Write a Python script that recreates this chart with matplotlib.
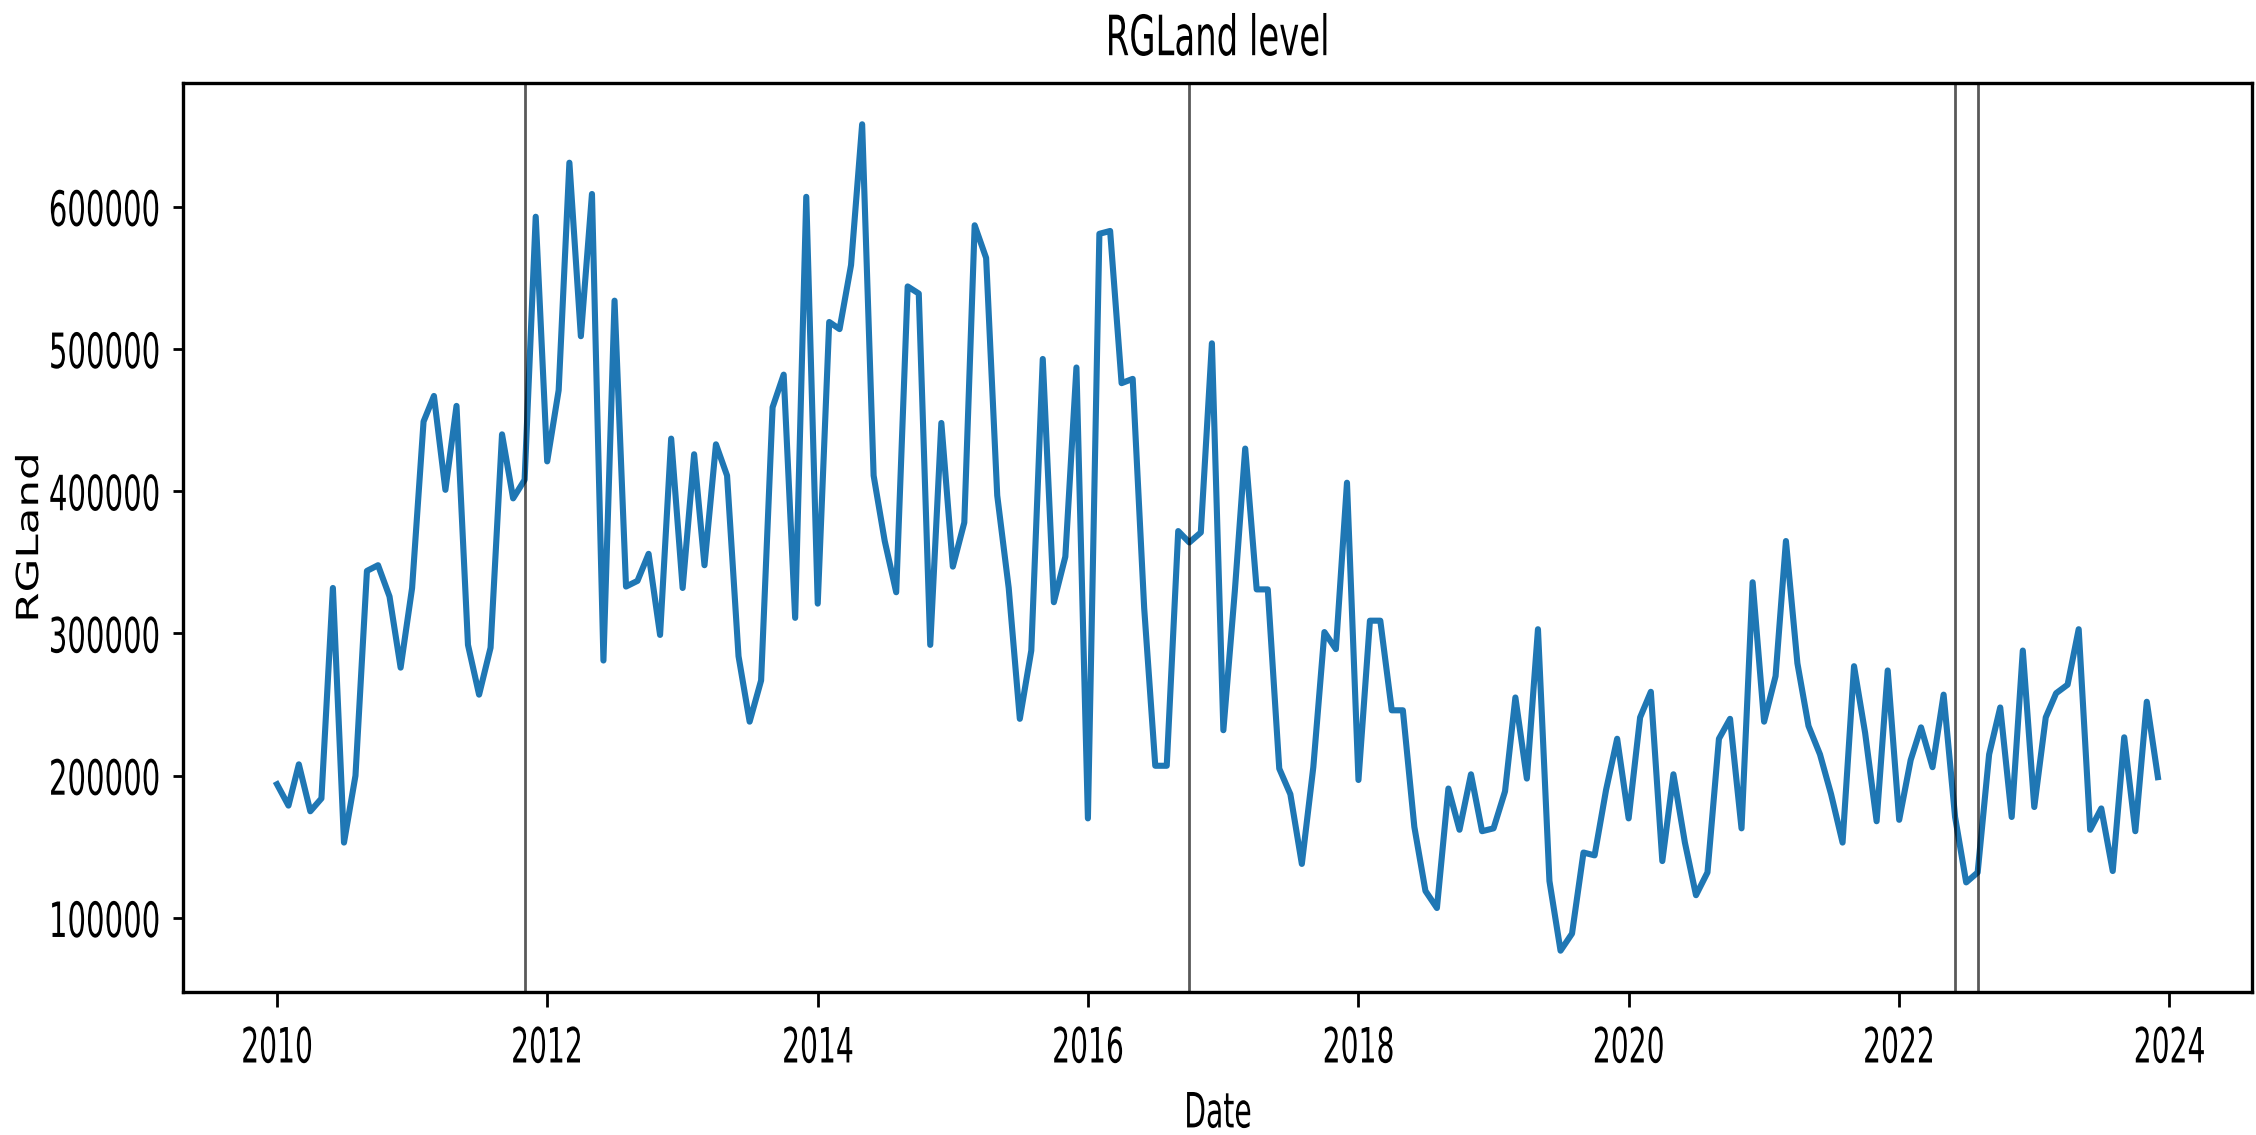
import pandas as pd
import matplotlib
matplotlib.use('Agg')
import matplotlib.pyplot as plt
import matplotlib.dates as mdates
from matplotlib.patheffects import AbstractPathEffect
from matplotlib.transforms import Affine2D, Bbox

# monthly RGLand level, Jan 2010 .. Dec 2023 (one row per year)
rgland = [
    194000, 179000, 208000, 175000, 184000, 332000, 153000, 200000, 344000, 348000, 326000, 276000,
    332000, 449000, 467000, 401000, 460000, 292000, 257000, 290000, 440000, 395000, 408000, 593000,
    421000, 471000, 631000, 509000, 609000, 281000, 534000, 333000, 337000, 356000, 299000, 437000,
    332000, 426000, 348000, 433000, 411000, 284000, 238000, 267000, 459000, 482000, 311000, 607000,
    321000, 519000, 514000, 559000, 658000, 411000, 365000, 329000, 544000, 539000, 292000, 448000,
    347000, 378000, 587000, 564000, 397000, 332000, 240000, 288000, 493000, 322000, 354000, 487000,
    170000, 581000, 583000, 476000, 479000, 318000, 207000, 207000, 372000, 364000, 371000, 504000,
    232000, 330000, 430000, 331000, 331000, 205000, 187000, 138000, 206000, 301000, 289000, 406000,
    197000, 309000, 309000, 246000, 246000, 164000, 119000, 107000, 191000, 162000, 201000, 161000,
    163000, 189000, 255000, 198000, 303000, 126000, 77000, 89000, 146000, 144000, 190000, 226000,
    170000, 241000, 259000, 140000, 201000, 153000, 116000, 132000, 226000, 240000, 163000, 336000,
    238000, 270000, 365000, 279000, 235000, 215000, 187000, 153000, 277000, 230000, 168000, 274000,
    169000, 211000, 234000, 206000, 257000, 171000, 125000, 132000, 215000, 248000, 171000, 288000,
    178000, 241000, 258000, 264000, 303000, 162000, 177000, 133000, 227000, 161000, 252000, 199000,
]
start = '2010-01-01'
# break dates marked by vertical lines
breaks = ['2011-11-01', '2016-10-01', '2022-06-01', '2022-08-01']
yticks = [100000, 200000, 300000, 400000, 500000, 600000]


class Squeeze(AbstractPathEffect):
    # the reference is squashed sideways, so the text is drawn narrow too
    def __init__(self, sx=0.59, anchor='center'):
        super().__init__()
        self.sx = sx
        self.anchor = anchor

    def draw_path(self, renderer, gc, tpath, affine, rgbFace=None):
        bb = tpath.get_extents(affine)
        x0 = bb.x1 if self.anchor == 'right' else 0.5 * (bb.x0 + bb.x1)
        sq = Affine2D().translate(-x0, 0).scale(self.sx, 1).translate(x0, 0)
        renderer.draw_path(gc, tpath, affine + sq, rgbFace)


def squeeze_text(txt, sx, anchor='center'):
    txt.set_path_effects([Squeeze(sx, anchor)])
    orig = txt.get_window_extent

    # report the narrow box, not the full-width one
    def extent(renderer=None, dpi=None):
        bb = orig(renderer, dpi)
        x0 = bb.x1 if anchor == 'right' else 0.5 * (bb.x0 + bb.x1)
        return Bbox.from_extents(x0 + (bb.x0 - x0) * sx, bb.y0,
                                 x0 + (bb.x1 - x0) * sx, bb.y1)
    txt.get_window_extent = extent


dates = pd.date_range(start, periods=len(rgland), freq='MS')

fig = plt.figure(figsize=(11.28, 5.675), dpi=200)
ax = fig.add_axes([0.0811, 0.126, 0.9171, 0.8009])

ax.plot(dates, rgland, color='#1f77b4', linewidth=2.2)
for b in breaks:
    ax.axvline(pd.Timestamp(b), color='black', alpha=0.65, linewidth=1.0)

ax.xaxis.set_major_locator(mdates.YearLocator(2))
ax.xaxis.set_major_formatter(mdates.DateFormatter('%Y'))
ax.set_yticks(yticks)
ax.set_yticklabels([str(v) for v in yticks])

for s in ax.spines.values():
    s.set_linewidth(1.2)
ax.tick_params(axis='x', length=5.4, width=1.0, pad=6.3, labelsize=17.5)
ax.tick_params(axis='y', length=3.6, width=1.0, pad=4.0, labelsize=17.5)

t = ax.set_title('RGLand level', fontsize=20, pad=10)
squeeze_text(t, 0.61)
xl = ax.set_xlabel('Date', fontsize=17.5, labelpad=6.1)
squeeze_text(xl, 0.58)
yl = ax.set_ylabel('RGLand', fontsize=15.7)
squeeze_text(yl, 0.7)
ax.yaxis.set_label_coords(-0.0633, 0.5)

fig.canvas.draw()
for lab in ax.get_xticklabels():
    squeeze_text(lab, 0.58)
for lab in ax.get_yticklabels():
    squeeze_text(lab, 0.6, anchor='right')

fig.savefig('out.png', dpi=200)
